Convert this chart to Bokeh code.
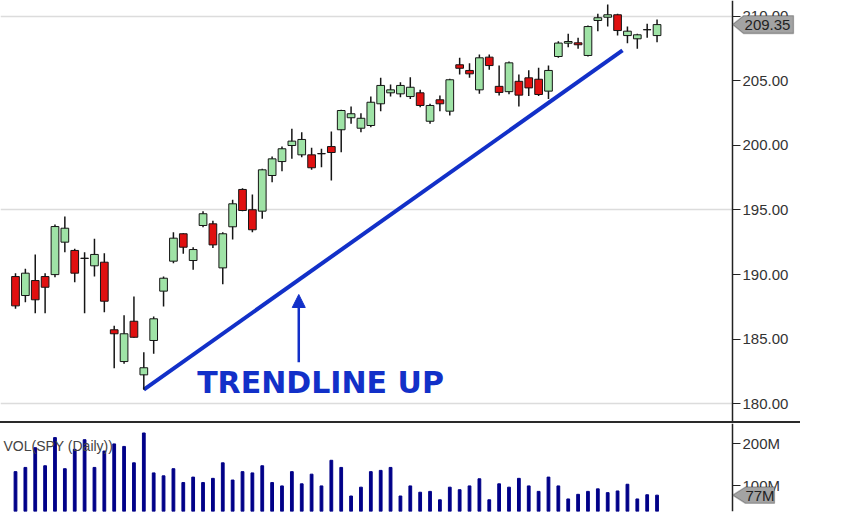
from bokeh.plotting import figure
from bokeh.layouts import column
from bokeh.models import (Range1d, FixedTicker, PrintfTickFormatter, Label, LinearAxis, Grid,
                          PolyAnnotation, Arrow, NormalHead, Div, ColumnDataSource)
from bokeh.embed import file_html
from bokeh.resources import INLINE

# ---------------- data ----------------
opens = [189.85, 188.38, 189.54, 189.85, 190.00, 192.51, 191.87, 191.27, 190.68, 190.96,
         185.73, 183.27, 186.39, 182.24, 184.90, 188.72, 191.04, 193.16, 191.09, 193.80,
         193.93, 190.52, 193.70, 196.59, 195.02, 194.91, 197.67, 198.75, 199.99, 199.27,
         199.27, 199.37, 199.91, 201.21, 202.14, 201.33, 201.54, 203.22, 204.07, 203.99,
         203.78, 204.07, 201.87, 203.53, 202.65, 206.24, 205.80, 204.30, 206.83, 204.57,
         204.16, 204.96, 205.23, 205.12, 204.20, 206.88, 207.91, 207.94, 206.96, 209.67,
         209.92, 210.11, 208.50, 208.25, 208.96, 208.50]
highs = [190.11, 190.45, 191.56, 190.11, 193.88, 194.50, 192.00, 191.73, 192.77, 191.66,
         186.04, 186.86, 188.30, 183.99, 186.75, 189.85, 193.28, 193.20, 192.12, 194.91,
         194.16, 193.28, 195.79, 196.69, 196.20, 198.19, 199.14, 199.91, 201.28, 201.02,
         199.81, 199.74, 201.08, 202.76, 203.01, 202.49, 203.78, 205.23, 204.71, 204.89,
         205.28, 204.30, 203.22, 203.86, 205.15, 206.78, 206.36, 207.04, 207.04, 206.18,
         206.50, 205.49, 205.82, 206.01, 206.18, 208.06, 208.64, 208.33, 209.28, 210.19,
         210.90, 210.19, 209.20, 208.64, 209.41, 209.74]
lows = [187.35, 187.86, 187.01, 187.01, 189.80, 191.73, 189.41, 187.01, 189.85, 187.09,
        182.76, 183.10, 185.11, 181.08, 183.87, 187.53, 190.88, 191.61, 190.37, 193.67,
        192.05, 189.26, 192.72, 194.91, 193.28, 194.32, 197.15, 198.00, 198.96, 199.09,
        198.11, 198.31, 197.28, 199.47, 201.67, 201.02, 201.41, 202.65, 203.78, 203.73,
        203.60, 202.96, 201.67, 202.65, 202.31, 205.49, 205.23, 203.99, 205.85, 203.86,
        203.96, 203.01, 203.82, 203.82, 203.60, 206.78, 207.60, 207.48, 206.88, 208.84,
        209.20, 208.50, 207.90, 207.48, 208.33, 207.99]
closes = [187.58, 190.11, 188.05, 189.02, 193.72, 193.59, 190.11, 191.25, 191.56, 187.94,
          185.42, 185.42, 185.15, 182.79, 186.58, 189.72, 192.82, 192.12, 191.94, 194.71,
          192.30, 193.16, 195.48, 194.96, 193.47, 198.11, 198.96, 199.74, 200.33, 200.46,
          198.27, 199.35, 199.45, 202.70, 202.45, 202.10, 203.34, 204.64, 204.30, 204.64,
          204.50, 203.09, 203.09, 203.22, 205.08, 205.97, 205.54, 206.78, 206.18, 204.10,
          206.39, 203.89, 204.45, 203.94, 205.80, 207.92, 208.04, 207.79, 209.20, 209.88,
          210.11, 208.89, 208.84, 208.56, 208.95, 209.35]
volumes_m = [133, 143, 190, 147, 214, 140, 186, 209, 143, 182,
             199, 193, 154, 225, 130, 123, 140, 107, 120, 107,
             117, 154, 113, 133, 130, 147, 107, 99, 133, 104,
             127, 99, 160, 143, 75, 96, 133, 136, 143, 75,
             99, 84, 86, 66, 96, 90, 99, 116, 66, 104,
             96, 117, 99, 86, 120, 99, 68, 79, 86, 92,
             83, 87, 103, 68, 78, 77]
price_ticks = [180, 185, 190, 195, 200, 205, 210]
price_grid = [180, 195, 210]
volume_ticks = [100, 200]
trend_x = [13.0, 61.5]
trend_y = [181.1, 207.35]
annotation_text = "TRENDLINE UP"
volume_title = "VOL(SPY (Daily))"

# ---------------- styles / layout ----------------
UP = "#9fe3a6"
DOWN = "#e01010"
EDGE = "#151515"
BLUE = "#1230c8"
TXT = "#333333"
FONT = "Liberation Sans"
STEP = 9.87          # px per bar
OFF = 15             # px of first bar
W = 800


def px_to_x(px):
    return (px - OFF) / STEP


X0, X1 = px_to_x(0), px_to_x(W)
AX = px_to_x(732)

n = len(closes)
xs = list(range(n))
body_top = [max(o, c) for o, c in zip(opens, closes)]
body_bot = [min(o, c) for o, c in zip(opens, closes)]
colors = [UP if c >= o else DOWN for o, c in zip(opens, closes)]
src = ColumnDataSource(dict(x=xs, o=opens, h=highs, l=lows, c=closes,
                            top=body_top, bot=body_bot, color=colors, vol=volumes_m))


def style_axis(a, fmt):
    a.formatter = PrintfTickFormatter(format=fmt)
    a.major_tick_out = 8
    a.major_tick_in = 0
    a.minor_tick_out = 0
    a.minor_tick_in = 0
    a.major_label_standoff = 2
    a.axis_line_color = "#222222"
    a.axis_line_width = 1.5
    a.major_tick_line_color = "#222222"
    a.major_label_text_font = FONT
    a.major_label_text_font_size = "15px"
    a.major_label_text_color = TXT


def flag(fig, yval, half, x_body, x_right, text, x_text):
    fig.add_layout(PolyAnnotation(xs=[AX + 0.01, px_to_x(x_body), px_to_x(x_right),
                                      px_to_x(x_right), px_to_x(x_body)],
                                  ys=[yval, yval + half, yval + half, yval - half, yval - half],
                                  fill_color="#a3a3a3", fill_alpha=1,
                                  line_color="#1a1a1a", line_width=1.3))
    fig.add_layout(Label(x=px_to_x(x_text), y=yval, text=text, text_font=FONT,
                         text_font_size="15px", text_color="#222222", text_align="center",
                         text_baseline="middle"))


# ---------------- price panel ----------------
p = figure(width=W, height=421, x_range=Range1d(X0, X1), y_range=Range1d(178.63, 211.215),
           output_backend="svg", toolbar_location=None, x_axis_location=None,
           y_axis_location=None, min_border=0)
p.outline_line_color = None
p.xgrid.visible = False
p.ygrid.visible = False

ya = LinearAxis(ticker=FixedTicker(ticks=price_ticks), fixed_location=AX)
style_axis(ya, "%.2f")
p.add_layout(ya, "right")
g = Grid(dimension=1, ticker=FixedTicker(ticks=price_grid), grid_line_color="#dcdcdc",
         grid_line_width=1.5, cross_bounds=(X0, AX))
p.add_layout(g)

p.line(trend_x, trend_y, line_color=BLUE, line_width=4)
p.segment(x0="x", y0="l", x1="x", y1="h", source=src, line_color=EDGE, line_width=1.5)
p.vbar(x="x", width=0.78, top="top", bottom="bot", source=src,
       fill_color="color", line_color=EDGE, line_width=1)

p.add_layout(Arrow(end=NormalHead(size=13, fill_color=BLUE, line_color=BLUE),
                   x_start=28.7, y_start=183.22, x_end=28.7, y_end=188.46,
                   line_color=BLUE, line_width=2.5))
p.add_layout(Label(x=px_to_x(320), y=181.67, text=annotation_text, text_font="DejaVu Sans",
                   text_font_style="bold", text_font_size="30px", text_color=BLUE,
                   text_align="center", text_baseline="middle"))

flag(p, closes[-1], 0.69, 743, 793, f"{closes[-1]:.2f}", 767)

# ---------------- separator ----------------
sep = Div(width=W, height=2, styles={"background-color": "#2a2a2a"}, margin=0)

# ---------------- volume panel ----------------
v = figure(width=W, height=93, x_range=p.x_range, y_range=Range1d(38.1, 247.6),
           output_backend="svg", toolbar_location=None, x_axis_location=None,
           y_axis_location=None, min_border=0, min_border_bottom=5)
v.outline_line_color = None
v.grid.visible = False
va = LinearAxis(ticker=FixedTicker(ticks=volume_ticks), fixed_location=AX)
style_axis(va, "%dM")
v.add_layout(va, "right")

v.vbar(x="x", width=0.28, top="vol", bottom=0, source=src, color="#000088")
v.add_layout(Label(x=px_to_x(3), y=193.6, text=volume_title, text_font=FONT,
                   text_font_size="14px", text_color="#444444", text_baseline="middle"))
flag(v, volumes_m[-1], 19.5, 745, 774, f"{volumes_m[-1]}M", 759.5)

layout = column(p, sep, v, spacing=0)
open("out.html", "w").write(file_html(layout, INLINE))
